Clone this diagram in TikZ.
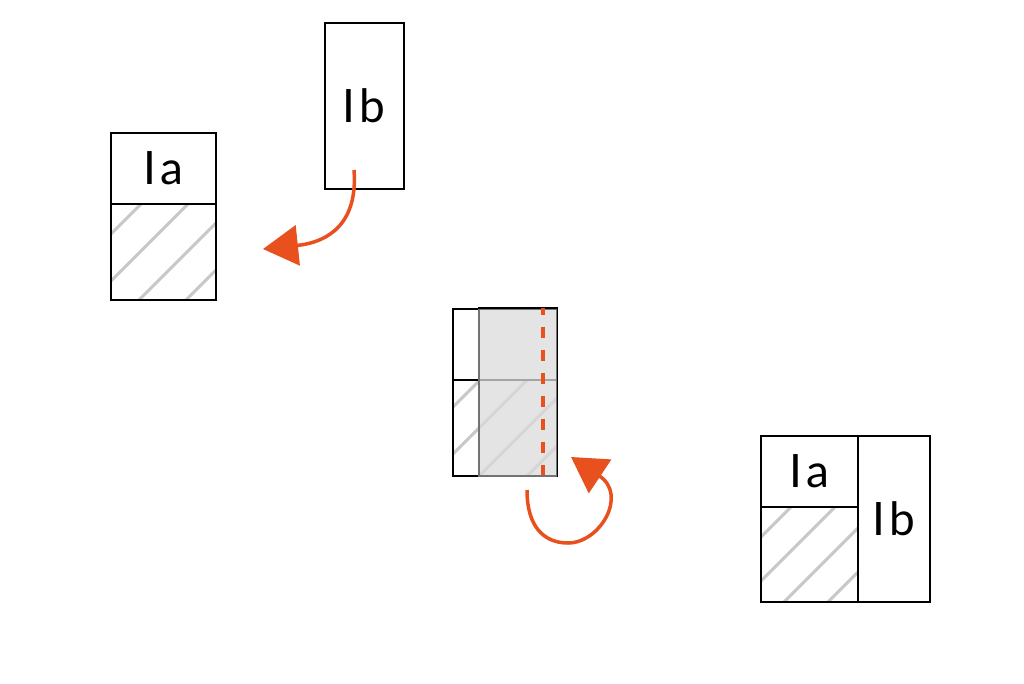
\documentclass[tikz,border=0pt]{standalone}
\usepackage{fontspec}
\setmainfont{Lato}
\usetikzlibrary{arrows.meta}
\definecolor{org}{RGB}{232,80,30}
\definecolor{hatch}{RGB}{200,200,200}
\definecolor{veil}{RGB}{219,219,219}
\begin{document}
\begin{tikzpicture}[x=1pt,y=-1pt,
  box/.style={draw=black,line width=1.6pt,inner sep=0pt,anchor=north west,font=\fontsize{46}{46}\selectfont},
  hatchline/.style={draw=hatch,line width=3pt},
  arr/.style={draw=org,line width=3.5pt,-{Triangle[length=35pt,width=40pt]}},
  foldline/.style={draw=org,line width=3.5pt,dash pattern=on 11.5pt off 11.5pt,dash phase=4.5pt},
  veilbox/.style={fill=veil,fill opacity=0.75,draw=black!55,line width=1.6pt,inner sep=0pt,anchor=north west}]
\useasboundingbox (0,0) rectangle (1024,683);
\fill[white] (0,0) rectangle (1024,683);

% ---------- left: Ia ----------
\begin{scope}
  \clip (110,203) rectangle (215,299);
  \foreach \c in {345,392,439,486} \draw[hatchline] (\c-320,320) -- (\c-180,180);
\end{scope}
\node[box,minimum width=105pt,minimum height=71pt] (iaTop) at (110,132) {I\kern4pt a};
\node[box,minimum width=105pt,minimum height=96pt] (iaBot) at (110,203) {};

% ---------- top: Ib ----------
\node[box,minimum width=79pt,minimum height=166pt] (ibTop) at (324,22) {I\kern4pt b};

% ---------- arrow 1 ----------
\coordinate (a1s) at (354,170);
\coordinate (a1e) at (263,249);
\draw[arr] (a1s) .. controls (358,222) and (330,242) .. (a1e);

% ---------- middle: folded ----------
\begin{scope}
  \clip (452,379) rectangle (556,475);
  \foreach \c in {860,907,955,1003} \draw[hatchline] (\c-500,500) -- (\c-350,350);
\end{scope}
\node[box,minimum width=104pt,minimum height=71pt] (mTop) at (452,308) {};
\node[box,minimum width=104pt,minimum height=96pt] (mBot) at (452,379) {};
\node[veilbox,minimum width=78pt,minimum height=167pt] (mVeil) at (478,308) {};
\draw[black,line width=1.6pt] (mVeil.north west) -- (mVeil.north east) -- (mVeil.south east);
\coordinate (f1) at (543,308);
\coordinate (f2) at (543,475);
\draw[foldline] (f1) -- (f2);

% ---------- arrow 2 ----------
\coordinate (a2s) at (527,490);
\coordinate (a2m) at (568,543);
\coordinate (a2e) at (571,457);
\draw[arr] (a2s) .. controls (527,528) and (545,543) .. (a2m)
               .. controls (600,543) and (628,495) .. (a2e);

% ---------- right: result ----------
\begin{scope}
  \clip (760,506) rectangle (857,601);
  \foreach \c in {1298,1342,1386,1430} \draw[hatchline] (\c-620,620) -- (\c-480,480);
\end{scope}
\node[box,minimum width=97pt,minimum height=71pt] (rIa) at (760,435) {I\kern4pt a};
\node[box,minimum width=97pt,minimum height=95pt] (rIaBot) at (760,506) {};
\node[box,minimum width=72pt,minimum height=166pt] (rIb) at (857,435) {I\kern4pt b};
\end{tikzpicture}
\end{document}
